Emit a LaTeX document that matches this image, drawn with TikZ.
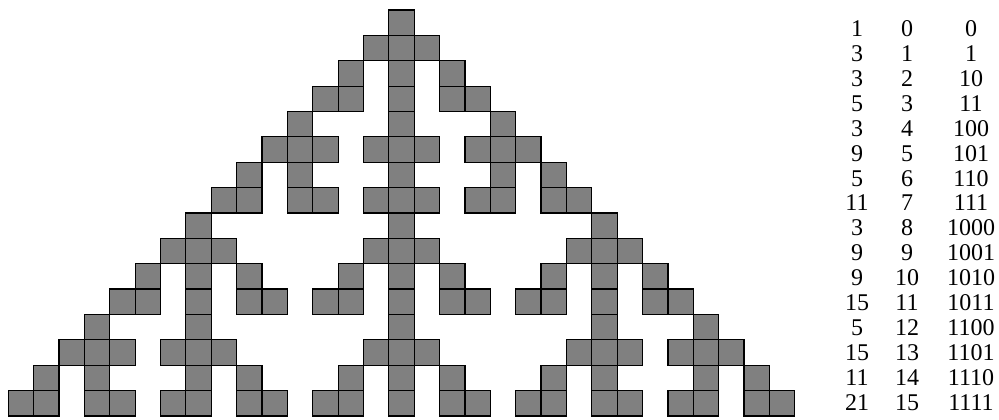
\documentclass[tikz,border=0pt]{standalone}
\usepackage{fontspec}
\setmainfont{Liberation Serif}
\definecolor{cellgray}{RGB}{128,128,128}
\begin{document}
\begin{tikzpicture}[x=0.75pt,y=-0.75pt,
  cell/.style={fill=cellgray,draw=black,line width=0.9pt},
  lbl/.style={font=\fontsize{18}{18}\selectfont,anchor=base,inner sep=0pt}]
\useasboundingbox (0,0) rectangle (999,420);
\def\s{25.37}
\foreach \r/\cols in {
  0/{0},
  1/{-1,0,1},
  2/{-2,0,2},
  3/{-3,-2,0,2,3},
  4/{-4,0,4},
  5/{-5,-4,-3,-1,0,1,3,4,5},
  6/{-6,-4,0,4,6},
  7/{-7,-6,-4,-3,-1,0,1,3,4,6,7},
  8/{-8,0,8},
  9/{-9,-8,-7,-1,0,1,7,8,9},
  10/{-10,-8,-6,-2,0,2,6,8,10},
  11/{-11,-10,-8,-6,-5,-3,-2,0,2,3,5,6,8,10,11},
  12/{-12,-8,0,8,12},
  13/{-13,-12,-11,-9,-8,-7,-1,0,1,7,8,9,11,12,13},
  14/{-14,-12,-8,-6,-2,0,2,6,8,12,14},
  15/{-15,-14,-12,-11,-9,-8,-6,-5,-3,-2,0,2,3,5,6,8,9,11,12,14,15}} {
  \foreach \c in \cols {
    \draw[cell] ({8.3+(\c+15)*\s},{10+\r*\s}) rectangle ++(\s,\s);
  }
}
\foreach \r/\cnt/\bin in {0/1/0,1/3/1,2/3/10,3/5/11,4/3/100,5/9/101,6/5/110,7/11/111,
  8/3/1000,9/9/1001,10/9/1010,11/15/1011,12/5/1100,13/15/1101,14/11/1110,15/21/1111} {
  \node[lbl] (cnt\r) at (857,{36.7+24.9*\r}) {\cnt};
  \node[lbl] (num\r) at (907,{36.7+24.9*\r}) {\r};
  \node[lbl] (bin\r) at (971,{36.7+24.9*\r}) {\bin};
}
\end{tikzpicture}
\end{document}
